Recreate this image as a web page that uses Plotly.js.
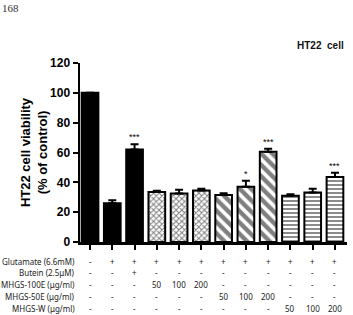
<!DOCTYPE html>
<html>
<head>
<meta charset="utf-8">
<script src="https://cdn.plot.ly/plotly-3.0.1.min.js"></script>
<style>
  html, body { margin: 0; padding: 0; background: #fff; }
  #chart { width: 353px; height: 315px; }
</style>
</head>
<body>
<div id="chart"></div>
<script>
// Cell viability of HT22 cells per treatment group
const groups = ['Control', 'Glu', 'Glu+Butein',
  'Glu+100E 50', 'Glu+100E 100', 'Glu+100E 200',
  'Glu+50E 50', 'Glu+50E 100', 'Glu+50E 200',
  'Glu+W 50', 'Glu+W 100', 'Glu+W 200'];
const viability = [100, 26, 62, 33.5, 32.5, 34.5, 31.5, 37, 60.5, 31, 33.2, 43.5];
const sem = [0, 2, 3.5, 0.8, 2.5, 1.2, 1.2, 4, 2, 1, 2.5, 3];
const significance = ['', '', '***', '', '', '', '', '*', '***', '', '', '***'];

// Treatment table below the axis
const rowLabels = ['Glutamate (6.6mM)', 'Butein (2.5\u03bcM)', 'MHGS-100E (\u03bcg/ml)',
  'MHGS-50E (\u03bcg/ml)', 'MHGS-W (\u03bcg/ml)'];
const glutamate = ['-', '+', '+', '+', '+', '+', '+', '+', '+', '+', '+', '+'];
const butein    = ['-', '-', '+', '-', '-', '-', '-', '-', '-', '-', '-', '-'];
const mhgs100E  = ['-', '-', '-', '50', '100', '200', '-', '-', '-', '-', '-', '-'];
const mhgs50E   = ['-', '-', '-', '-', '-', '-', '50', '100', '200', '-', '-', '-'];
const mhgsW     = ['-', '-', '-', '-', '-', '-', '-', '-', '-', '50', '100', '200'];
const tableRows = [glutamate, butein, mhgs100E, mhgs50E, mhgsW];

// bar groups: [first index, last index, fill pattern]
const barSets = [
  { from: 0, to: 2, shape: '', size: 6, solidity: 0.3 },
  { from: 3, to: 5, shape: 'x', size: 4, solidity: 0.45 },
  { from: 6, to: 8, shape: '\\', size: 8, solidity: 0.55 },
  { from: 9, to: 11, shape: '-', size: 4, solidity: 0.45 }
];

const xIdx = groups.map((g, i) => i);

const traces = barSets.map(set => {
  const idx = xIdx.slice(set.from, set.to + 1);
  const solid = set.shape === '';
  return {
    type: 'bar',
    x: idx,
    y: idx.map(i => viability[i]),
    width: 0.75,
    marker: {
      color: solid ? '#000' : '#fff',
      line: { color: '#000', width: 2 },
      pattern: solid ? { shape: '' } :
        { shape: set.shape, fgcolor: '#000', bgcolor: '#fff', size: set.size,
          solidity: set.solidity, fillmode: 'overlay' }
    },
    error_y: {
      type: 'data', symmetric: false,
      array: idx.map(i => sem[i]), arrayminus: idx.map(() => 0),
      color: '#000', thickness: 2, width: 4
    },
    hoverinfo: 'none'
  };
});

const annotations = [];
// significance marks above the error bars
significance.forEach((s, i) => {
  if (!s) return;
  annotations.push({
    x: i, y: viability[i] + sem[i], xref: 'x', yref: 'y',
    text: s, showarrow: false, yanchor: 'bottom', yshift: 0,
    font: { family: 'Liberation Sans, Arial', size: 9, color: '#000' }
  });
});

const rowY = [-0.108, -0.173, -0.236, -0.304, -0.372];
rowLabels.forEach((lab, r) => {
  annotations.push({
    x: -0.01, y: rowY[r], xref: 'paper', yref: 'paper',
    text: lab, showarrow: false, xanchor: 'right', yanchor: 'middle',
    font: { family: 'Noto Sans, sans-serif', size: 8, color: '#222' }
  });
  tableRows[r].forEach((v, i) => {
    annotations.push({
      x: i, y: rowY[r], xref: 'x', yref: 'paper',
      text: v, showarrow: false, xanchor: 'center', yanchor: 'middle',
      font: { family: 'Noto Sans, sans-serif', size: 8, color: '#222' }
    });
  });
});

annotations.push({
  x: 0.995, y: 1.099, xref: 'paper', yref: 'paper',
  text: '<b>HT22  cell</b>', showarrow: false, xanchor: 'right', yanchor: 'middle',
  font: { family: 'Liberation Sans, Arial', size: 10, color: '#111' }
});
annotations.push({
  x: -0.3, y: 1.35, xref: 'paper', yref: 'paper',
  text: '168', showarrow: false, xanchor: 'left', yanchor: 'top',
  font: { family: 'Liberation Serif, serif', size: 11, color: '#333' }
});

const layout = {
  width: 353, height: 315,
  margin: { l: 80, r: 6, t: 62.7, b: 73.3 },
  paper_bgcolor: '#fff', plot_bgcolor: '#fff',
  showlegend: false,
  barmode: 'overlay',
  xaxis: {
    range: [-0.45, 11.54], showgrid: false, zeroline: false,
    showline: true, linecolor: '#000', linewidth: 2.5,
    ticks: 'outside', ticklen: 5, tickwidth: 2, tickcolor: '#000',
    tickvals: xIdx, showticklabels: false, fixedrange: true
  },
  yaxis: {
    range: [0, 120], showgrid: false, zeroline: false,
    showline: true, linecolor: '#000', linewidth: 2.5,
    ticks: 'outside', ticklen: 5, tickwidth: 2, tickcolor: '#000',
    tickvals: [0, 20, 40, 60, 80, 100, 120],
    tickfont: { family: 'Liberation Sans, Arial', size: 12, color: '#000', weight: 'bold' },
    title: {
      text: 'HT22 cell viability<br>(% of control)',
      font: { family: 'Liberation Sans, Arial', size: 13, color: '#000', weight: 'bold' },
      standoff: 0
    },
    fixedrange: true
  },
  annotations: annotations
};

Plotly.newPlot('chart', traces, layout, { displayModeBar: false, staticPlot: true });
</script>
</body>
</html>
